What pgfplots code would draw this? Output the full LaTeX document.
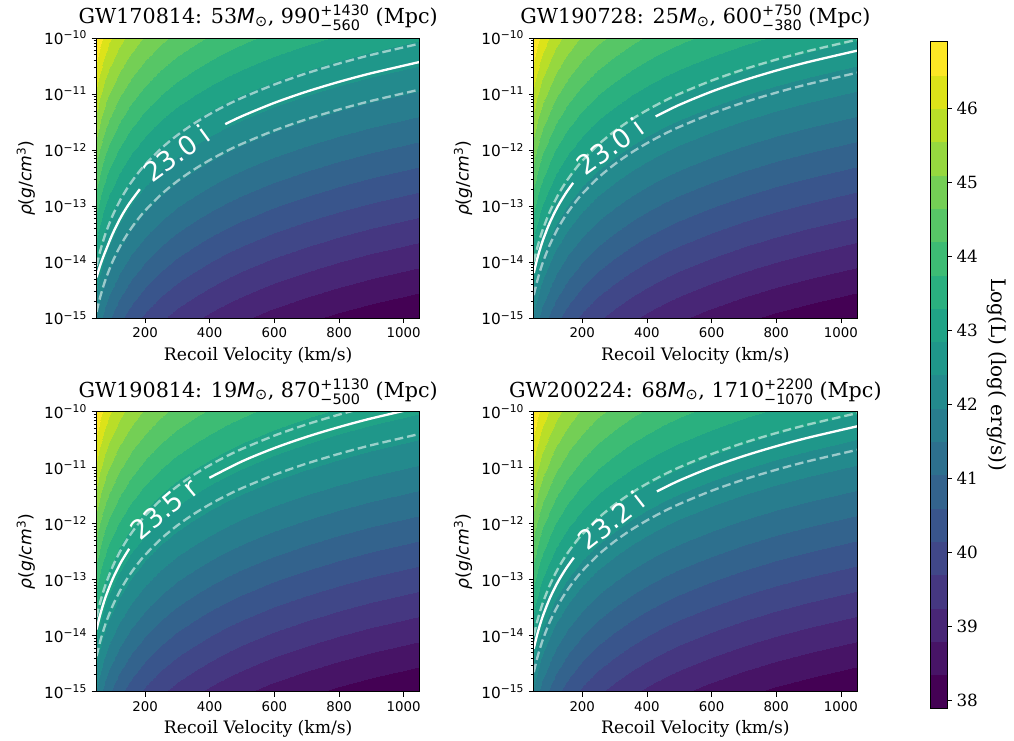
\documentclass[border=0pt]{standalone}
\usepackage{fontspec}
\setmainfont{DejaVu Serif}
\setsansfont{DejaVu Sans}
\usepackage{pgfplots}
\usepackage{pgfplotstable}
\pgfplotsset{compat=1.18}

% Log(L) read on a (velocity, log10 rho) grid
\pgfplotstableread{
v lr L
50 -15 41.867
60 -15 41.630
70 -15 41.429
80 -15 41.255
90 -15 41.101
100 -15 40.964
120 -15 40.727
140 -15 40.526
160 -15 40.352
180 -15 40.198
200 -15 40.061
250 -15 39.770
300 -15 39.533
350 -15 39.332
400 -15 39.158
450 -15 39.004
500 -15 38.867
600 -15 38.630
700 -15 38.429
800 -15 38.255
900 -15 38.101
1050 -15 37.900
50 -14 42.867
60 -14 42.630
70 -14 42.429
80 -14 42.255
90 -14 42.101
100 -14 41.964
120 -14 41.727
140 -14 41.526
160 -14 41.352
180 -14 41.198
200 -14 41.061
250 -14 40.770
300 -14 40.533
350 -14 40.332
400 -14 40.158
450 -14 40.004
500 -14 39.867
600 -14 39.630
700 -14 39.429
800 -14 39.255
900 -14 39.101
1050 -14 38.900
50 -13 43.867
60 -13 43.630
70 -13 43.429
80 -13 43.255
90 -13 43.101
100 -13 42.964
120 -13 42.727
140 -13 42.526
160 -13 42.352
180 -13 42.198
200 -13 42.061
250 -13 41.770
300 -13 41.533
350 -13 41.332
400 -13 41.158
450 -13 41.004
500 -13 40.867
600 -13 40.630
700 -13 40.429
800 -13 40.255
900 -13 40.101
1050 -13 39.900
50 -12 44.867
60 -12 44.630
70 -12 44.429
80 -12 44.255
90 -12 44.101
100 -12 43.964
120 -12 43.727
140 -12 43.526
160 -12 43.352
180 -12 43.198
200 -12 43.061
250 -12 42.770
300 -12 42.533
350 -12 42.332
400 -12 42.158
450 -12 42.004
500 -12 41.867
600 -12 41.630
700 -12 41.429
800 -12 41.255
900 -12 41.101
1050 -12 40.900
50 -11 45.867
60 -11 45.630
70 -11 45.429
80 -11 45.255
90 -11 45.101
100 -11 44.964
120 -11 44.727
140 -11 44.526
160 -11 44.352
180 -11 44.198
200 -11 44.061
250 -11 43.770
300 -11 43.533
350 -11 43.332
400 -11 43.158
450 -11 43.004
500 -11 42.867
600 -11 42.630
700 -11 42.429
800 -11 42.255
900 -11 42.101
1050 -11 41.900
50 -10 46.867
60 -10 46.630
70 -10 46.429
80 -10 46.255
90 -10 46.101
100 -10 45.964
120 -10 45.727
140 -10 45.526
160 -10 45.352
180 -10 45.198
200 -10 45.061
250 -10 44.770
300 -10 44.533
350 -10 44.332
400 -10 44.158
450 -10 44.004
500 -10 43.867
600 -10 43.630
700 -10 43.429
800 -10 43.255
900 -10 43.101
1050 -10 42.900
}\lumgrid

\newcommand{\tp}[1]{10\textsuperscript{−#1}}
\newcommand{\Msun}{{\sffamily\itshape M}\textsubscript{\sffamily ⊙}}
\newcommand{\ud}[2]{{\sffamily\fontsize{10.8}{11}\selectfont\renewcommand{\arraystretch}{0.92}\begin{tabular}[c]{@{}l@{}}#1\\#2\end{tabular}}}

\tikzset{
  lbl/.style={text=white, font=\sffamily\fontsize{20}{24}\selectfont, inner sep=0pt},
}

\pgfplotsset{
  colormap={vcf}{rgb255=(68,1,84) rgb255=(71,20,102) rgb255=(72,38,118) rgb255=(69,55,129)
    rgb255=(64,71,136) rgb255=(57,85,140) rgb255=(51,99,141) rgb255=(45,112,142)
    rgb255=(40,125,142) rgb255=(35,138,141) rgb255=(31,151,138) rgb255=(32,163,134)
    rgb255=(42,176,127) rgb255=(61,188,116) rgb255=(87,198,102) rgb255=(116,207,85)
    rgb255=(150,216,63) rgb255=(185,222,40) rgb255=(221,227,25) rgb255=(253,231,37)},
  panel/.style={
    anchor=south west, scale only axis,
    width=242.5pt, height=210.2pt,
    xmin=50, xmax=1050, ymin=-15, ymax=-10,
    xtick={200,400,600,800,1000},
    ytick={-15,-14,-13,-12,-11,-10},
    yticklabels={\tp{15},\tp{14},\tp{13},\tp{12},\tp{11},\tp{10}},
    minor ytick={-14.69897,-14.52288,-14.39794,-14.30103,-14.22185,-14.15490,-14.09691,-14.04576,
      -13.69897,-13.52288,-13.39794,-13.30103,-13.22185,-13.15490,-13.09691,-13.04576,
      -12.69897,-12.52288,-12.39794,-12.30103,-12.22185,-12.15490,-12.09691,-12.04576,
      -11.69897,-11.52288,-11.39794,-11.30103,-11.22185,-11.15490,-11.09691,-11.04576,
      -10.69897,-10.52288,-10.39794,-10.30103,-10.22185,-10.15490,-10.09691,-10.04576},
    tick align=outside, tick pos=left,
    major tick length=3.6pt, minor tick length=2.1pt,
    every tick/.style={black, line width=0.6pt},
    axis line style={line width=0.6pt},
    axis on top,
    colormap name=vcf, colormap access=piecewise constant,
    point meta min=37.9, point meta max=46.9,
    /pgf/number format/assume math mode=true,
    /pgf/number format/1000 sep={},
    xticklabel style={font=\sffamily\fontsize{10}{12}\selectfont},
    yticklabel style={font=\sffamily\fontsize{11.5}{13}\selectfont},
    xlabel={Recoil Velocity (km/s)},
    ylabel={{\itshape ρ}(\textit{g}/\textit{cm}\textsuperscript{3})},
    xlabel style={font=\fontsize{12.9}{15}\selectfont},
    ylabel style={font=\sffamily\fontsize{12.9}{15}\selectfont},
    title style={font=\fontsize{15.5}{18}\selectfont, yshift=-7pt},
  },
  solidc/.style={white, line width=1.75pt, smooth},
  dashc/.style={white, opacity=0.55, line width=1.75pt, dash pattern=on 6.5pt off 3pt, smooth},
}

\begin{document}
\begin{tikzpicture}
\useasboundingbox (0,0) rectangle (760.5pt,555pt);

% GW170814
\begin{axis}[panel, at={(72.4pt,316.3pt)},
  title={GW170814: 53\Msun, 990\ud{+1430}{−560} (Mpc)}]
\addplot[surf, shader=interp, mesh/cols=22, point meta=\thisrow{L}] table[x=v, y=lr] {\lumgrid};
\addplot[dashc] coordinates {(50,-14.067) (60,-13.830) (70,-13.629) (80,-13.455) (100,-13.164) (125,-12.873) (150,-12.636) (175,-12.435) (200,-12.261) (250,-11.970) (300,-11.733) (350,-11.532) (400,-11.358) (450,-11.204) (500,-11.067) (600,-10.830) (700,-10.629) (800,-10.455) (900,-10.301) (1050,-10.100)};
\addplot[dashc] coordinates {(50,-14.887) (60,-14.650) (70,-14.449) (80,-14.275) (100,-13.984) (125,-13.693) (150,-13.456) (175,-13.255) (200,-13.081) (250,-12.790) (300,-12.553) (350,-12.352) (400,-12.178) (450,-12.024) (500,-11.887) (600,-11.650) (700,-11.449) (800,-11.275) (900,-11.121) (1050,-10.920)};
\addplot[solidc] coordinates {(50,-14.27) (60,-14.08) (70,-13.915) (80,-13.77) (100,-13.49) (125,-13.200) (150,-12.963) (184,-12.697)};
\addplot[solidc] coordinates {(448,-11.537) (500,-11.394) (600,-11.157) (700,-10.956) (800,-10.782) (900,-10.628) (1050,-10.427)};
\node[lbl, rotate=36] at (axis cs:298,-12.06) {23.0 i};
\end{axis}

% GW190728
\begin{axis}[panel, at={(400.3pt,316.3pt)},
  title={GW190728: 25\Msun, 600\ud{+750}{−380} (Mpc)}]
\addplot[surf, shader=interp, mesh/cols=22, point meta=\thisrow{L}] table[x=v, y=lr] {\lumgrid};
\addplot[dashc] coordinates {(50,-13.997) (60,-13.760) (70,-13.559) (80,-13.385) (100,-13.094) (125,-12.803) (150,-12.566) (175,-12.365) (200,-12.191) (250,-11.900) (300,-11.663) (350,-11.462) (400,-11.288) (450,-11.134) (500,-10.997) (600,-10.760) (700,-10.559) (800,-10.385) (900,-10.231) (1050,-10.030)};
\addplot[dashc] coordinates {(50,-14.587) (60,-14.350) (70,-14.149) (80,-13.975) (100,-13.684) (125,-13.393) (150,-13.156) (175,-12.955) (200,-12.781) (250,-12.490) (300,-12.253) (350,-12.052) (400,-11.878) (450,-11.724) (500,-11.587) (600,-11.350) (700,-11.149) (800,-10.975) (900,-10.821) (1050,-10.620)};
\addplot[solidc] coordinates {(50,-14.193) (60,-13.956) (70,-13.755) (80,-13.581) (100,-13.290) (125,-12.999) (150,-12.762) (172,-12.584)};
\addplot[solidc] coordinates {(427,-11.399) (500,-11.193) (600,-10.956) (700,-10.755) (800,-10.581) (900,-10.427) (1050,-10.226)};
\node[lbl, rotate=36] at (axis cs:287,-11.93) {23.0 i};
\end{axis}

% GW190814
\begin{axis}[panel, at={(72.4pt,36.2pt)},
  title={GW190814: 19\Msun, 870\ud{+1130}{−500} (Mpc)}]
\addplot[surf, shader=interp, mesh/cols=22, point meta=\thisrow{L}] table[x=v, y=lr] {\lumgrid};
\addplot[dashc] coordinates {(50,-13.668) (60,-13.431) (70,-13.230) (80,-13.056) (100,-12.765) (125,-12.474) (150,-12.237) (175,-12.036) (200,-11.862) (250,-11.571) (300,-11.334) (350,-11.133) (400,-10.959) (450,-10.805) (500,-10.668) (600,-10.431) (700,-10.230) (800,-10.056) (900,-9.902)};
\addplot[dashc] coordinates {(50,-14.367) (60,-14.130) (70,-13.929) (80,-13.755) (100,-13.464) (125,-13.173) (150,-12.936) (175,-12.735) (200,-12.561) (250,-12.270) (300,-12.033) (350,-11.832) (400,-11.658) (450,-11.504) (500,-11.367) (600,-11.130) (700,-10.929) (800,-10.755) (900,-10.601) (1050,-10.400)};
\addplot[solidc] coordinates {(50,-13.890) (60,-13.653) (70,-13.452) (80,-13.278) (100,-12.987) (125,-12.696) (151,-12.450)};
\addplot[solidc] coordinates {(399,-11.184) (500,-10.890) (600,-10.653) (700,-10.452) (800,-10.278) (900,-10.124) (1050,-9.923)};
\node[lbl, rotate=40] at (axis cs:259,-11.74) {23.5 r};
\end{axis}

% GW200224
\begin{axis}[panel, at={(400.3pt,36.2pt)},
  title={GW200224: 68\Msun, 1710\ud{+2200}{−1070} (Mpc)}]
\addplot[surf, shader=interp, mesh/cols=22, point meta=\thisrow{L}] table[x=v, y=lr] {\lumgrid};
\addplot[dashc] coordinates {(50,-13.997) (60,-13.760) (70,-13.559) (80,-13.385) (100,-13.094) (125,-12.803) (150,-12.566) (175,-12.365) (200,-12.191) (250,-11.900) (300,-11.663) (350,-11.462) (400,-11.288) (450,-11.134) (500,-10.997) (600,-10.760) (700,-10.559) (800,-10.385) (900,-10.231) (1050,-10.030)};
\addplot[dashc] coordinates {(50,-14.652) (60,-14.415) (70,-14.214) (80,-14.040) (100,-13.749) (125,-13.458) (150,-13.221) (175,-13.020) (200,-12.846) (250,-12.555) (300,-12.318) (350,-12.117) (400,-11.943) (450,-11.789) (500,-11.652) (600,-11.415) (700,-11.214) (800,-11.040) (900,-10.886) (1050,-10.685)};
\addplot[solidc] coordinates {(50,-14.232) (60,-13.995) (70,-13.794) (80,-13.620) (100,-13.329) (125,-13.038) (150,-12.801) (174,-12.607)};
\addplot[solidc] coordinates {(431,-11.426) (500,-11.232) (600,-10.995) (700,-10.794) (800,-10.620) (900,-10.466) (1050,-10.265)};
\node[lbl, rotate=38] at (axis cs:290,-11.945) {23.2 i};
\end{axis}

% colour bar
\begin{axis}[anchor=south west, at={(697.5pt,23.8pt)}, scale only axis,
  width=12.75pt, height=500pt,
  xmin=0, xmax=1, ymin=37.9, ymax=46.9,
  xtick=\empty, ytick={38,39,40,41,42,43,44,45,46},
  ytick pos=right, yticklabel pos=right, tick align=outside,
  major tick length=3.6pt,
  every tick/.style={black, line width=0.6pt},
  axis line style={line width=0.6pt},
  axis on top,
  colormap name=vcf, colormap access=piecewise constant,
  point meta min=37.9, point meta max=46.9,
  /pgf/number format/assume math mode=true,
  yticklabel style={font=\fontsize{12.6}{14}\selectfont},
  ylabel={Log(L) (log( erg/s))},
  ylabel style={font=\fontsize{15}{18}\selectfont, rotate=180},
]
\addplot[surf, shader=interp, mesh/cols=2, point meta=\thisrow{c}] table[x=x, y=y] {
x y c
0 37.9 37.9
1 37.9 37.9
0 46.9 46.9
1 46.9 46.9
};
\end{axis}
\end{tikzpicture}
\end{document}
